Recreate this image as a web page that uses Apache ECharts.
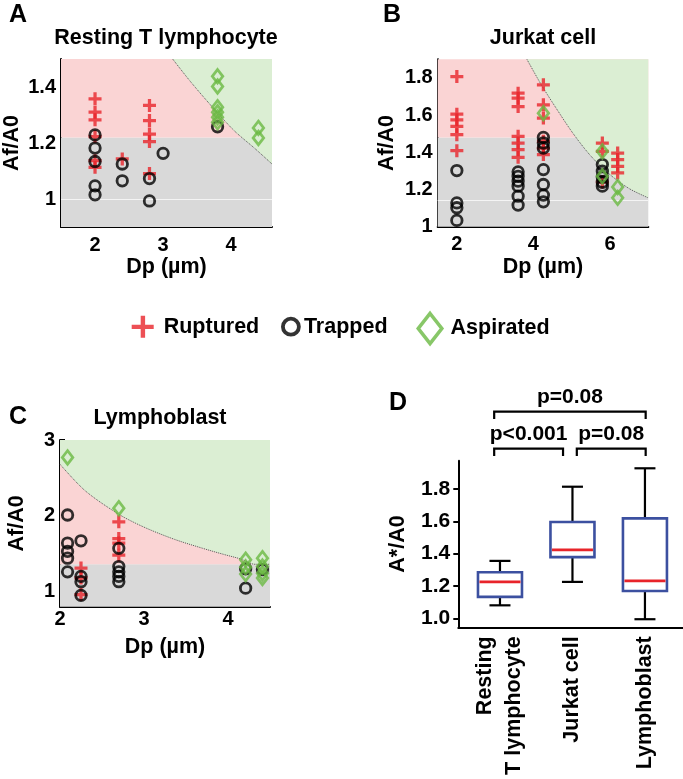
<!DOCTYPE html>
<html><head><meta charset="utf-8">
<script src="https://cdn.jsdelivr.net/npm/echarts@6/dist/echarts.min.js"></script>
<style>html,body{margin:0;padding:0;background:#fff}#c{width:683px;height:779px}</style>
</head><body><div id="c"></div>
<script>
// ---------- Panel A: Resting T lymphocyte ----------
const rupturedA = [[2,1.358],[2,1.31],[2,1.283],[2,1.223],[2,1.137],[2,1.113],[2.4,1.143],[2.8,1.334],[2.8,1.28],[2.8,1.232],[2.8,1.205],[2.8,1.091]];
const trappedA = [[2,1.229],[2,1.182],[2,1.134],[2,1.047],[2,1.015],[2.4,1.125],[2.4,1.065],[2.8,1.073],[2.8,0.993],[3.0,1.163],[3.8,1.258]];
const aspiratedA = [[3.8,1.438],[3.8,1.402],[3.8,1.328],[3.8,1.31],[3.8,1.292],[3.8,1.274],[4.4,1.254],[4.4,1.218]];
const limitA = 1.22;
const curveA = [[3.14,1.5],[3.4,1.42],[3.7,1.335],[4.04,1.245],[4.35,1.18],[4.6,1.125]];
const refA = 1.0;
const xTicksA = [2,3,4], yTicksA = [1,1.2,1.4];

// ---------- Panel B: Jurkat cell ----------
const rupturedB = [[2,1.807],[2,1.605],[2,1.575],[2,1.539],[2,1.495],[2,1.409],
  [3.6,1.718],[3.6,1.691],[3.6,1.646],[3.6,1.486],[3.6,1.45],[3.6,1.414],[3.6,1.373],
  [4.26,1.763],[4.26,1.655],[4.26,1.584],[4.26,1.459],[4.26,1.423],[4.26,1.388],
  [5.8,1.45],[5.8,1.405],[5.8,1.24],[6.2,1.396],[6.2,1.361],[6.2,1.325],[6.2,1.289]];
const trappedB = [[2,1.302],[2,1.128],[2,1.102],[2,1.034],
  [3.6,1.295],[3.6,1.271],[3.6,1.245],[3.6,1.218],[3.6,1.164],[3.6,1.116],
  [4.26,1.48],[4.26,1.45],[4.26,1.423],[4.26,1.307],[4.26,1.227],[4.26,1.17],[4.26,1.134],
  [5.8,1.334],[5.8,1.298],[5.8,1.266],[5.8,1.239],[5.8,1.218]];
const aspiratedB = [[4.26,1.61],[5.8,1.405],[5.8,1.271],[6.2,1.214],[6.2,1.155]];
const limitB = 1.48;
const curveB = [[3.83,1.9],[4.2,1.765],[4.6,1.635],[5.04,1.5],[5.5,1.38],[6.0,1.28],[6.5,1.205],[7.0,1.155]];
const refB = 1.137;
const xTicksB = [2,4,6], yTicksB = [1,1.2,1.4,1.6,1.8];

// ---------- Panel C: Lymphoblast ----------
const rupturedC = [[2.25,1.31],[2.25,1.18],[2.25,0.96],[2.7,1.92],[2.7,1.70],[2.7,1.64],[2.7,1.48]];
const trappedC = [[2.09,2.01],[2.09,1.64],[2.09,1.53],[2.09,1.44],[2.09,1.26],
  [2.25,1.67],[2.25,1.2],[2.25,1.13],[2.25,0.95],
  [2.7,1.57],[2.7,1.33],[2.7,1.26],[2.7,1.2],[2.7,1.13],
  [4.21,1.3],[4.21,1.045],[4.41,1.29]];
const aspiratedC = [[2.09,2.77],[2.7,2.10],[4.21,1.42],[4.21,1.32],[4.21,1.23],[4.41,1.44],[4.41,1.33],[4.41,1.24],[4.41,1.18]];
const limitC = 1.36;
const curveC = [[2.0,2.68],[2.3,2.33],[2.7,2.02],[3.0,1.85],[3.36,1.69],[3.7,1.57],[3.95,1.49],[4.15,1.43],[4.32,1.36],[4.5,1.36]];
const xTicksC = [2,3,4], yTicksC = [1,2,3];

// ---------- Panel D: box plot ----------
const boxCats = ['Resting\nT lymphocyte','Jurkat cell','Lymphoblast'];
const boxMin = [1.08, 1.225, 0.994];
const boxQ1  = [1.132, 1.378, 1.169];
const boxMed = [1.225, 1.423, 1.231];
const boxQ3  = [1.285, 1.596, 1.618];
const boxMax = [1.355, 1.814, 1.928];
const yTicksD = [1.0,1.2,1.4,1.6,1.8];
const bracketFrom = [0.92, 0.92, 2.06];
const bracketTo   = [3.01, 1.87, 3.01];
const bracketLevel = [2.279, 2.05, 2.05];
const bracketText = ['p=0.08','p<0.001','p=0.08'];

// ---------- styles ----------
const FONT = '"Liberation Sans", Arial, sans-serif';
const RED = '#e8242a', GREEN = '#6ab942', BLACK = '#000';
const PINK_BG = '#fad4d4', GRAY_BG = '#d9d9d9', GREEN_BG = '#dbeed3';
const BOX_BLUE = '#3c50a0';
const CROSS = 'path://M8.25,0h5.5v22h-5.5zM0,8.25h22v5.5h-22z';
const CROSS_LEG = 'path://M9,0h4.4v22h-4.4zM0,9h22v4.4h-22z';
const DIAMOND_LEG = 'path://M11.75,0L23.5,15L11.75,30L0,15Z';

const chart = echarts.init(document.getElementById('c'), null, {renderer:'canvas'});

function numFmt(v){ return String(Math.round(v*10)/10); }

function xAx(grid, min, max, ticks, margin, gap){
  return {gridIndex:grid, type:'value', min:min, max:max,
    axisLine:{onZero:false, lineStyle:{color:BLACK,width:2}},
    axisTick:{inside:true, length:5, customValues:ticks, lineStyle:{color:BLACK,width:2}},
    axisLabel:{customValues:ticks, formatter:numFmt, color:BLACK, fontSize:20, fontWeight:'bold', fontFamily:FONT, margin:margin},
    splitLine:{show:false},
    name:'Dp (µm)', nameLocation:'middle', nameGap:gap,
    nameTextStyle:{color:BLACK, fontSize:21.5, fontWeight:'bold', fontFamily:FONT}};
}
function yAx(grid, min, max, ticks, gap){
  return {gridIndex:grid, type:'value', min:min, max:max,
    axisLine:{onZero:false, lineStyle:{color:BLACK,width:2}},
    axisTick:{inside:true, length:5, customValues:ticks, lineStyle:{color:BLACK,width:2}},
    axisLabel:{customValues:ticks, formatter:numFmt, color:BLACK, fontSize:20, fontWeight:'bold', fontFamily:FONT, margin:5},
    splitLine:{show:false},
    name:'Af/A0', nameLocation:'middle', nameGap:gap, nameRotate:90,
    nameTextStyle:{color:BLACK, fontSize:21.5, fontWeight:'bold', fontFamily:FONT}};
}

function regionSeries(idx, curve, limit, ymin, ymax, ref){
  const s = {type:'line', xAxisIndex:idx, yAxisIndex:idx, data:curve, symbol:'none', smooth:0.3,
    silent:true, z:2,
    lineStyle:{color:'#555', width:1, type:'dotted'},
    areaStyle:{color:GREEN_BG, opacity:1, origin:'end'},
    markArea:{silent:true, data:[
      [{yAxis:ymin, itemStyle:{color:GRAY_BG}}, {yAxis:limit}],
      [{yAxis:limit, itemStyle:{color:PINK_BG}}, {yAxis:ymax}]
    ]}};
  if (ref != null) {
    s.markLine = {silent:true, symbol:'none', z:1, label:{show:false},
      lineStyle:{color:'#f4f4f4', width:1, type:'solid'}, data:[{yAxis:ref}]};
  }
  return s;
}
function scatterSet(idx, rup, trap, asp){
  return [
    {name:'Ruptured', type:'scatter', xAxisIndex:idx, yAxisIndex:idx, data:rup, symbol:CROSS, symbolSize:13,
      itemStyle:{color:RED}, z:3, silent:true},
    {name:'Trapped', type:'scatter', xAxisIndex:idx, yAxisIndex:idx, data:trap, symbol:'circle', symbolSize:10.5,
      itemStyle:{color:'rgba(0,0,0,0)', borderColor:BLACK, borderWidth:2.8}, z:4, silent:true},
    {name:'Aspirated', type:'scatter', xAxisIndex:idx, yAxisIndex:idx, data:asp, symbol:'diamond', symbolSize:[10.5,13.5],
      itemStyle:{color:'rgba(0,0,0,0)', borderColor:GREEN, borderWidth:2.8}, z:5, silent:true}
  ];
}

const boxData = boxCats.map((c,i)=>[i+1, boxMin[i], boxQ1[i], boxMed[i], boxQ3[i], boxMax[i]]);
const bracketData = bracketText.map((t,i)=>[bracketFrom[i], bracketTo[i], bracketLevel[i]]);

const legendText = {color:BLACK, fontSize:21.5, fontWeight:'bold', fontFamily:FONT, lineHeight:24};

function txt(x,y,text,size,align){
  return {type:'text', x:x, y:y, silent:true,
    style:{text:text, font:'bold '+size+'px '+FONT, fill:BLACK, align:align||'center', verticalAlign:'middle',
      textAlign:align||'center', textVerticalAlign:'middle'}};
}

const option = {
  animation:false,
  backgroundColor:'#fff',
  grid:[
    {left:60.7, top:59, width:211.3, height:168},
    {left:437.7, top:59.3, width:210.6, height:167.4},
    {left:60, top:440, width:210, height:166.7},
    {left:458.3, top:460.7, width:224.7, height:166.6}
  ],
  xAxis:[
    xAx(0, 1.5, 4.6, xTicksA, 8, 27),
    xAx(1, 1.5, 7, xTicksB, 8, 27),
    xAx(2, 2, 4.5, xTicksC, 3, 29),
    {gridIndex:3, type:'value', min:0.425, max:3.525,
      axisLine:{onZero:false, lineStyle:{color:BLACK,width:2}},
      axisTick:{show:false},
      axisLabel:{customValues:[1,2,3], formatter:v=>boxCats[Math.round(v)-1], rotate:90,
        color:BLACK, fontSize:21.5, fontWeight:'bold', fontFamily:FONT, lineHeight:29, margin:9},
      splitLine:{show:false}}
  ],
  yAxis:[
    yAx(0, 0.9, 1.5, yTicksA, 38),
    yAx(1, 1, 1.9, yTicksB, 40),
    yAx(2, 0.8, 3, yTicksC, 32),
    {gridIndex:3, type:'value', min:0.944, max:1.975,
      axisLine:{onZero:false, lineStyle:{color:BLACK,width:2}},
      axisTick:{inside:false, length:5, customValues:yTicksD, lineStyle:{color:BLACK,width:2}},
      axisLabel:{customValues:yTicksD, formatter:v=>v.toFixed(1), color:BLACK, fontSize:21, fontWeight:'bold', fontFamily:FONT, margin:8},
      splitLine:{show:false},
      name:'A*/A0', nameLocation:'middle', nameGap:49, nameRotate:90,
      nameTextStyle:{color:BLACK, fontSize:21.5, fontWeight:'bold', fontFamily:FONT}}
  ],
  legend:[
    {data:[{name:'Ruptured', icon:CROSS_LEG, itemStyle:{color:RED, borderWidth:0}}], left:131.7, top:314.7, padding:0,
      itemWidth:32, itemHeight:22, selectedMode:false, textStyle:legendText},
    {data:[{name:'Trapped', icon:'circle', itemStyle:{color:'rgba(0,0,0,0)', borderColor:BLACK, borderWidth:3.8}}], left:281, top:314.7, padding:0,
      itemWidth:16, itemHeight:16, selectedMode:false, textStyle:legendText},
    {data:[{name:'Aspirated', icon:DIAMOND_LEG, itemStyle:{color:'rgba(0,0,0,0)', borderColor:GREEN, borderWidth:3.6}}], left:416.5, top:311.7, padding:0,
      itemWidth:31, itemHeight:30, selectedMode:false, textStyle:legendText}
  ],
  graphic:[
    txt(9,15.5,'A',25,'left'),
    txt(166,38.3,'Resting T lymphocyte',21.5),
    txt(383,15,'B',25,'left'),
    txt(543,37.7,'Jurkat cell',21.5),
    txt(9,417.5,'C',25,'left'),
    txt(160,418.3,'Lymphoblast',21.5),
    txt(389,403,'D',25,'left')
  ],
  series:[
    regionSeries(0, curveA, limitA, 0.9, 1.5, refA),
    ...scatterSet(0, rupturedA, trappedA, aspiratedA),
    regionSeries(1, curveB, limitB, 1, 1.9, refB),
    ...scatterSet(1, rupturedB, trappedB, aspiratedB),
    regionSeries(2, curveC, limitC, 0.8, 3, null),
    ...scatterSet(2, rupturedC, trappedC, aspiratedC),
    {type:'custom', xAxisIndex:3, yAxisIndex:3, data:boxData, silent:true, clip:false,
      encode:{x:0, y:[1,2,3,4,5]},
      renderItem:function(params, api){
        const x = api.value(0);
        const pMin = api.coord([x, api.value(1)]);
        const pQ1 = api.coord([x, api.value(2)]);
        const pMed = api.coord([x, api.value(3)]);
        const pQ3 = api.coord([x, api.value(4)]);
        const pMax = api.coord([x, api.value(5)]);
        const cx = pMin[0], bw = 44, cw = 21;
        const ls = {stroke:BLACK, lineWidth:2.2};
        return {type:'group', children:[
          {type:'line', shape:{x1:cx,y1:pMax[1],x2:cx,y2:pQ3[1]}, style:ls},
          {type:'line', shape:{x1:cx,y1:pQ1[1],x2:cx,y2:pMin[1]}, style:ls},
          {type:'line', shape:{x1:cx-cw/2,y1:pMax[1],x2:cx+cw/2,y2:pMax[1]}, style:ls},
          {type:'line', shape:{x1:cx-cw/2,y1:pMin[1],x2:cx+cw/2,y2:pMin[1]}, style:ls},
          {type:'rect', shape:{x:cx-bw/2,y:pQ3[1],width:bw,height:pQ1[1]-pQ3[1]}, style:{fill:'#fff', stroke:BOX_BLUE, lineWidth:2.6}},
          {type:'line', shape:{x1:cx-bw/2+1.5,y1:pMed[1],x2:cx+bw/2-1.5,y2:pMed[1]}, style:{stroke:RED, lineWidth:2.6}}
        ]};
      }},
    {type:'custom', xAxisIndex:3, yAxisIndex:3, data:bracketData, silent:true, clip:false,
      encode:{x:[0,1], y:2},
      renderItem:function(params, api){
        const a = api.coord([api.value(0), api.value(2)]);
        const b = api.coord([api.value(1), api.value(2)]);
        const tick = 7.5;
        return {type:'group', children:[
          {type:'polyline', shape:{points:[[a[0],a[1]+tick],[a[0],a[1]],[b[0],b[1]],[b[0],b[1]+tick]]},
            style:{stroke:BLACK, lineWidth:2.2, fill:null}},
          {type:'text', x:(a[0]+b[0])/2, y:a[1]-14,
            style:{text:bracketText[params.dataIndex], font:'bold 21px '+FONT, fill:BLACK, align:'center', verticalAlign:'middle'}}
        ]};
      }}
  ]
};
chart.setOption(option);
</script>
</body></html>
